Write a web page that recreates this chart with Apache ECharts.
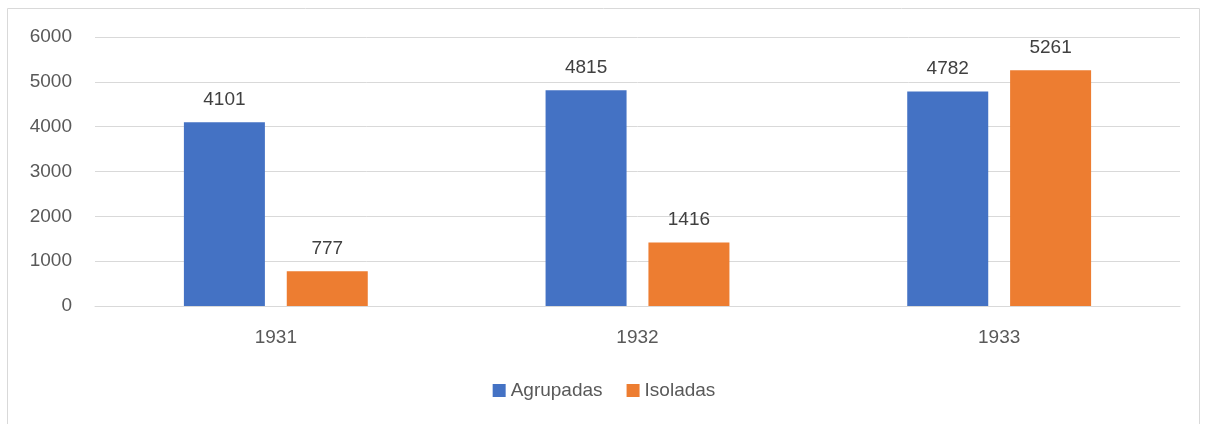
<!DOCTYPE html>
<html>
<head>
<meta charset="utf-8">
<script src="https://cdn.jsdelivr.net/npm/echarts@6/dist/echarts.min.js"></script>
<style>
  html, body { margin: 0; padding: 0; background: #fff; }
  #chart { width: 1208px; height: 424px; }
</style>
</head>
<body>
<div id="chart"></div>
<script>
const years = ['1931', '1932', '1933']
const agrupadas = [4101, 4815, 4782]
const isoladas = [777, 1416, 5261]

const textColor = '#595959'
const font = 'Liberation Sans'

const chart = echarts.init(document.getElementById('chart'))

chart.setOption({
  animation: false,
  textStyle: { fontFamily: font },
  graphic: [{
    type: 'rect',
    shape: { x: 7.5, y: 8.5, width: 1192, height: 430 },
    style: { fill: 'none', stroke: '#d9d9d9', lineWidth: 1 },
    silent: true
  }],
  legend: {
    bottom: 19,
    left: 'center',
    itemWidth: 13,
    itemHeight: 13,
    itemGap: 24,
    icon: 'rect',
    textStyle: { color: textColor, fontSize: 19, fontFamily: font },
    data: ['Agrupadas', 'Isoladas']
  },
  grid: {
    left: 95,
    right: 28,
    top: 37,
    bottom: 118
  },
  xAxis: {
    type: 'category',
    data: years,
    axisLine: { lineStyle: { color: '#d9d9d9', width: 1 } },
    axisTick: { show: false },
    axisLabel: { color: textColor, fontSize: 19, margin: 22 }
  },
  yAxis: {
    type: 'value',
    min: 0,
    max: 6000,
    interval: 1000,
    axisLine: { show: false },
    axisTick: { show: false },
    splitLine: { lineStyle: { color: '#d9d9d9', width: 1 } },
    axisLabel: { color: textColor, fontSize: 19, margin: 23, formatter: v => String(v) }
  },
  series: [
    {
      name: 'Agrupadas',
      type: 'bar',
      data: agrupadas,
      barWidth: 81,
      barGap: '27%',
      itemStyle: { color: '#4472C4' },
      label: { show: true, position: 'top', distance: 13, color: '#404040', fontSize: 19 }
    },
    {
      name: 'Isoladas',
      type: 'bar',
      data: isoladas,
      barWidth: 81,
      itemStyle: { color: '#ED7D31' },
      label: { show: true, position: 'top', distance: 13, color: '#404040', fontSize: 19 }
    }
  ]
})
</script>
</body>
</html>
